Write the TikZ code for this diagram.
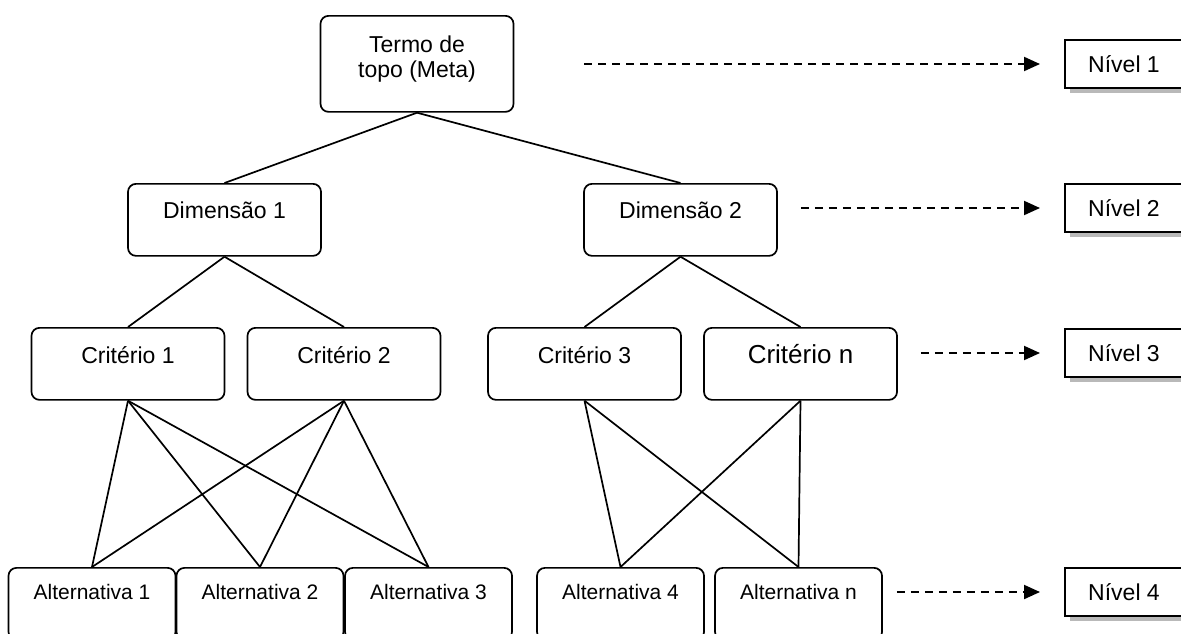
\documentclass[tikz,border=0pt]{standalone}
\usepackage{fontspec}
\setmainfont{Liberation Sans}
\usetikzlibrary{arrows.meta,shadows}

\begin{document}
\begin{tikzpicture}[
  x=0.5pt, y=-0.5pt,
  box/.style={draw, line width=0.85pt, rounded corners=4pt, fill=white, anchor=north,
    inner sep=0pt, minimum width=96.5pt, align=center,
    font=\fontsize{11.5}{12.5}\selectfont},
  dimbox/.style={box, text height=17.5pt, text depth=18.5pt},
  critbox/.style={box, text height=18pt, text depth=18pt},
  altbox/.style={box, minimum width=83.5pt, text height=16pt, text depth=20pt,
    font=\fontsize{10.5}{12}\selectfont},
  levelbox/.style={draw, line width=1pt, fill=white, anchor=north west,
    minimum width=59pt, minimum height=24pt, inner sep=0pt,
    font=\fontsize{11.5}{12.5}\selectfont,
    drop shadow={shadow xshift=2.5pt, shadow yshift=-2.5pt, fill=gray!55, opacity=1}},
  link/.style={line width=0.85pt},
  arr/.style={-{Triangle[length=8pt,width=7pt]}, dash pattern=on 4pt off 3pt,
    line width=1pt, shorten >=12pt}
]
  \useasboundingbox (0,0) rectangle (1181,633);

  % hierarchy
  \node[box, text height=31pt, text depth=17pt] (meta) at (417,15) {Termo de\\topo (Meta)};
  \node[dimbox] (dim1) at (224.5,183) {Dimensão 1};
  \node[dimbox] (dim2) at (680.5,183) {Dimensão 2};
  \node[critbox] (crit1) at (128,327) {Critério 1};
  \node[critbox] (crit2) at (344,327) {Critério 2};
  \node[critbox] (crit3) at (584.5,327) {Critério 3};
  \node[critbox, font=\fontsize{13}{14}\selectfont] (critn) at (800.5,327) {Critério n};
  \node[altbox] (alt1) at (92,567) {Alternativa 1};
  \node[altbox] (alt2) at (260,567) {Alternativa 2};
  \node[altbox] (alt3) at (428.5,567) {Alternativa 3};
  \node[altbox] (alt4) at (620.5,567) {Alternativa 4};
  \node[altbox] (altn) at (798.5,567) {Alternativa n};

  % levels
  \node[levelbox] (lvl1) at (1064,39) {Nível 1};
  \node[levelbox] (lvl2) at (1064,183) {Nível 2};
  \node[levelbox] (lvl3) at (1064,328) {Nível 3};
  \node[levelbox] (lvl4) at (1064,567) {Nível 4};

  \draw[link] (meta.south) -- (dim1.north);
  \draw[link] (meta.south) -- (dim2.north);
  \draw[link] (dim1.south) -- (crit1.north);
  \draw[link] (dim1.south) -- (crit2.north);
  \draw[link] (dim2.south) -- (crit3.north);
  \draw[link] (dim2.south) -- (critn.north);
  \foreach \c in {crit1,crit2}
    \foreach \a in {alt1,alt2,alt3}
      \draw[link] (\c.south) -- (\a.north);
  \foreach \c in {crit3,critn}
    \foreach \a in {alt4,altn}
      \draw[link] (\c.south) -- (\a.north);

  \draw[arr, shorten <=35pt] (meta.east |- lvl1.west) -- (lvl1.west);
  \draw[arr, shorten <=11.5pt] (dim2.east |- lvl2.west) -- (lvl2.west);
  \draw[arr, shorten <=11.5pt] (critn.east |- lvl3.west) -- (lvl3.west);
  \draw[arr, shorten <=7pt] (altn.east |- lvl4.west) -- (lvl4.west);
\end{tikzpicture}
\end{document}
